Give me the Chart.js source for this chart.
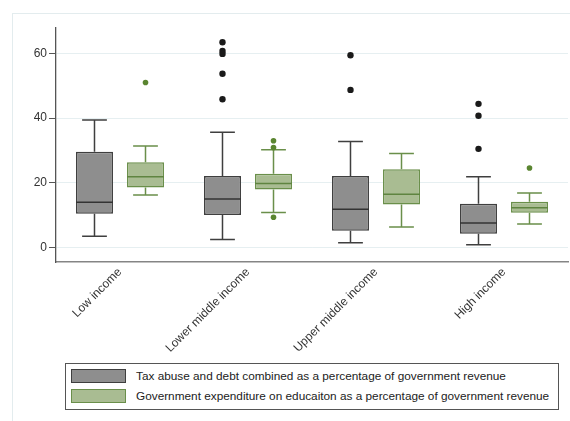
<!DOCTYPE html>
<html>
<head>
<meta charset="utf-8">
<title>Tax abuse and education spending by income group</title>
<script src="https://cdn.jsdelivr.net/npm/chart.js@4.4.1/dist/chart.umd.min.js"></script>
<style>
    body { margin: 0; background: #fff; }
    #wrap { position: relative; width: 570px; height: 421px; overflow: hidden; }
    #frame {
        position: absolute; left: 12px; top: 13px; width: 600px; height: 500px;
        border-left: 1px solid #e3ecee; border-top: 1px solid #e3ecee;
    }
    #chart { position: absolute; left: 0; top: 0; }
    #legend {
        position: absolute; left: 65px; top: 363px; width: 494px; height: 47px;
        box-sizing: border-box; border: 1px solid #555; background: #fff;
        padding: 5px 0 0 5px;
        font: 11.8px 'Liberation Sans', Arial, sans-serif; color: #222;
    }
    .item { display: flex; align-items: center; height: 14px; margin-bottom: 6px; white-space: nowrap; }
    .swatch { width: 55px; height: 14px; box-sizing: border-box; border: 1.5px solid; margin-right: 10px; flex: none; }
</style>
</head>
<body>
<div id="wrap">
    <div id="frame"></div>
    <canvas id="chart" width="570" height="421"></canvas>
    <div id="legend"></div>
</div>
<script>
// Income groups on the x axis
const categories = ['Low income', 'Lower middle income', 'Upper middle income', 'High income'];
const seriesNames = [
    'Tax abuse and debt combined as a percentage of government revenue',
    'Government expenditure on educaiton as a percentage of government revenue'
];
const yTicks = [0, 20, 40, 60];

// Tax abuse and debt: box plot statistics per group
const taxMin = [3.5, 2.5, 1.5, 0.9];
const taxQ1 = [10.5, 10.1, 5.2, 4.3];
const taxMedian = [14.0, 15.0, 11.9, 7.6];
const taxQ3 = [29.6, 22.1, 22.1, 13.6];
const taxMax = [39.4, 35.6, 32.8, 21.9];
const taxOutliers = [[], [63.4, 60.7, 59.8, 53.7, 45.8], [59.4, 48.7], [44.4, 40.7, 30.5]];

// Education expenditure: box plot statistics per group
const eduMin = [16.3, 10.9, 6.4, 7.3];
const eduQ1 = [18.6, 18.0, 13.3, 10.8];
const eduMedian = [21.9, 19.8, 16.5, 12.3];
const eduQ3 = [26.4, 22.8, 24.2, 14.2];
const eduMax = [31.4, 30.2, 29.1, 16.9];
const eduOutliers = [[51.0], [33.0, 30.9, 9.4], [], [24.6]];

const styles = [
    { fill: '#8e8e8e', line: '#3f3f3f', median: '#333333', dot: '#1a1a1a', dotRadius: 3.2 },
    { fill: '#a9bc92', line: '#6a8f4a', median: '#5f8440', dot: '#5a8530', dotRadius: 2.8 }
];

// Whiskers go under the boxes, medians and outliers on top
const boxPlotPlugin = {
    id: 'boxPlot',
    beforeDatasetsDraw(chart) {
        const ctx = chart.ctx;
        const y = chart.scales.y;
        chart.data.datasets.forEach((ds, d) => {
            const meta = chart.getDatasetMeta(d);
            meta.data.forEach((bar, i) => {
                const { x, width } = bar.getProps(['x', 'width'], true);
                const cap = width * 0.67;
                ctx.save();
                ctx.strokeStyle = ds.lineColor;
                ctx.lineWidth = 1.5;
                ctx.beginPath();
                ctx.moveTo(x, y.getPixelForValue(ds.q3[i]));
                ctx.lineTo(x, y.getPixelForValue(ds.max[i]));
                ctx.moveTo(x - cap / 2, y.getPixelForValue(ds.max[i]));
                ctx.lineTo(x + cap / 2, y.getPixelForValue(ds.max[i]));
                ctx.moveTo(x, y.getPixelForValue(ds.q1[i]));
                ctx.lineTo(x, y.getPixelForValue(ds.min[i]));
                ctx.moveTo(x - cap / 2, y.getPixelForValue(ds.min[i]));
                ctx.lineTo(x + cap / 2, y.getPixelForValue(ds.min[i]));
                ctx.stroke();
                ctx.restore();
            });
        });
    },
    afterDatasetsDraw(chart) {
        const ctx = chart.ctx;
        const y = chart.scales.y;
        chart.data.datasets.forEach((ds, d) => {
            const meta = chart.getDatasetMeta(d);
            meta.data.forEach((bar, i) => {
                const { x, width } = bar.getProps(['x', 'width'], true);
                ctx.save();
                ctx.strokeStyle = ds.medianColor;
                ctx.lineWidth = 1.5;
                ctx.beginPath();
                ctx.moveTo(x - width / 2, y.getPixelForValue(ds.median[i]));
                ctx.lineTo(x + width / 2, y.getPixelForValue(ds.median[i]));
                ctx.stroke();
                ctx.fillStyle = ds.dotColor;
                ds.outliers[i].forEach(v => {
                    ctx.beginPath();
                    ctx.arc(x, y.getPixelForValue(v), ds.dotRadius, 0, Math.PI * 2);
                    ctx.fill();
                });
                ctx.restore();
            });
        });
    }
};

function makeDataset(name, min, q1, median, q3, max, outliers, style) {
    return {
        label: name,
        data: q1.map((v, i) => [v, q3[i]]),
        min: min, q1: q1, median: median, q3: q3, max: max, outliers: outliers,
        backgroundColor: style.fill,
        borderColor: style.line,
        borderWidth: 1.5,
        borderSkipped: false,
        lineColor: style.line,
        medianColor: style.median,
        dotColor: style.dot,
        dotRadius: style.dotRadius,
        categoryPercentage: 0.797,
        barPercentage: 0.725
    };
}

Chart.defaults.font.family = "'Liberation Sans', Arial, sans-serif";
Chart.defaults.font.size = 12;
Chart.defaults.color = '#333';

new Chart(document.getElementById('chart'), {
    type: 'bar',
    data: {
        labels: categories,
        datasets: [
            makeDataset(seriesNames[0], taxMin, taxQ1, taxMedian, taxQ3, taxMax, taxOutliers, styles[0]),
            makeDataset(seriesNames[1], eduMin, eduQ1, eduMedian, eduQ3, eduMax, eduOutliers, styles[1])
        ]
    },
    options: {
        responsive: false,
        animation: false,
        events: [],
        layout: { padding: { left: 0, top: 28, right: 2, bottom: 0 } },
        plugins: {
            legend: { display: false },
            tooltip: { enabled: false }
        },
        scales: {
            x: {
                offset: true,
                grid: { display: false },
                border: { display: true, color: '#858585', width: 1.5 },
                ticks: { minRotation: 45, maxRotation: 45, padding: -5, color: '#333' },
                afterFit: s => { s.height = 159; }
            },
            y: {
                min: -4.41,
                max: 67.8,
                grid: { color: '#e6eff1', tickColor: '#555', tickLength: 7, lineWidth: 1 },
                border: { display: true, color: '#555', width: 1.3 },
                ticks: { padding: 2, color: '#333' },
                afterBuildTicks: s => { s.ticks = yTicks.map(v => ({ value: v })); },
                afterFit: s => { s.width = 56; }
            }
        }
    },
    plugins: [boxPlotPlugin]
});

// Legend built from the same series names and styles
const legend = document.getElementById('legend');
seriesNames.forEach((name, i) => {
    const item = document.createElement('div');
    item.className = 'item';
    const sw = document.createElement('span');
    sw.className = 'swatch';
    sw.style.background = styles[i].fill;
    sw.style.borderColor = styles[i].line;
    const txt = document.createElement('span');
    txt.textContent = name;
    item.appendChild(sw);
    item.appendChild(txt);
    legend.appendChild(item);
});
</script>
</body>
</html>
